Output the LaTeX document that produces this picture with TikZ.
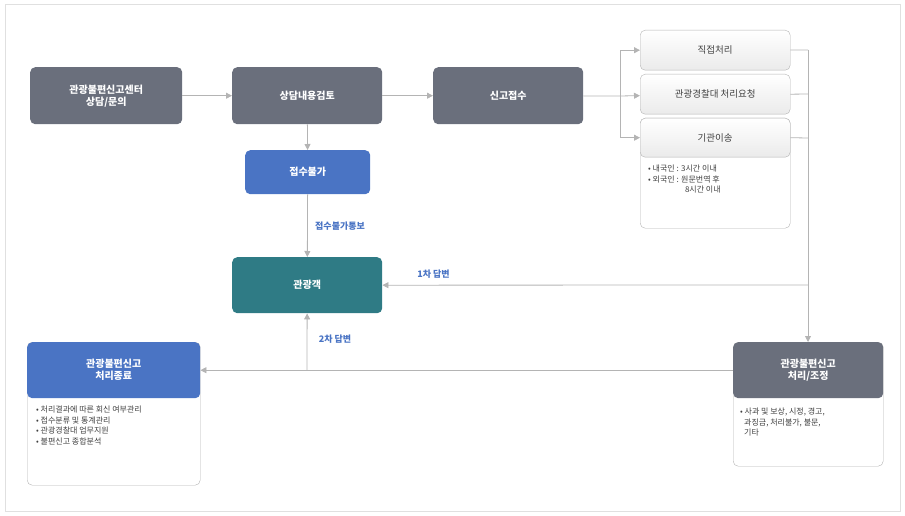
\documentclass[tikz,border=0pt]{standalone}
\usepackage{fontspec}
\setmainfont{Noto Sans CJK KR}
\usetikzlibrary{positioning,arrows.meta}
\definecolor{darkbox}{HTML}{6A6F7C}
\definecolor{bluebox}{HTML}{4A74C4}
\definecolor{tealbox}{HTML}{2F7B85}
\definecolor{lineg}{HTML}{B4B4B4}
\definecolor{textblue}{HTML}{4A74C4}
\tikzset{
  head/.style={rounded corners=5pt, text=white, font=\bfseries\fontsize{10}{12}\selectfont, align=center, anchor=north west, inner sep=0pt},
  opt/.style={rounded corners=5pt, draw=lineg, top color=white, bottom color=black!8, text=black!75, font=\fontsize{9.5}{11}\selectfont, align=center, anchor=north west, inner sep=0pt},
  body/.style={rounded corners=5pt, draw=lineg, fill=white},
  note/.style={font=\fontsize{8}{10.5}\selectfont, text=black!75, align=left, anchor=north west, inner sep=0pt},
  conn/.style={draw=lineg, line width=0.8pt},
  arr/.style={conn, -{Triangle[length=6pt,width=6pt]}},
  lbl/.style={text=textblue, font=\bfseries\fontsize{9}{11}\selectfont}
}
\begin{document}
\begin{tikzpicture}[x=1pt,y=-1pt]
\useasboundingbox (0,0) rectangle (905,516);
\draw[black!12, line width=1pt] (5,5) rectangle (900,511);
% top row
\node[head, fill=darkbox, minimum width=152pt, minimum height=57pt] (center) at (30,67) {관광불편신고센터\\상담/문의};
\node[head, fill=darkbox, minimum width=150pt, minimum height=57pt] (review) at (232,67) {상담내용검토};
\node[head, fill=darkbox, minimum width=150pt, minimum height=57pt] (receive) at (433,67) {신고접수};
\node[head, fill=bluebox, minimum width=125pt, minimum height=44pt] (reject) at (245,150) {접수불가};
\node[head, fill=tealbox, minimum width=150pt, minimum height=56pt] (tourist) at (232,257) {관광객};
% right options
\node[opt, minimum width=150pt, minimum height=40pt] (direct) at (640,30) {직접처리};
\node[opt, minimum width=150pt, minimum height=40pt] (police) at (640,74) {관광경찰대 처리요청};
\node[body, anchor=north west, minimum width=150pt, minimum height=110pt] (transferbody) at (640,118) {};
\node[opt, minimum width=150pt, minimum height=39pt] (transfer) at (640,118) {기관이송};
\node[note] (transfernote) at (648,165) {• 내국인 : 3시간 이내\\• 외국인 : 원문번역 후\\\hspace{4.6em}8시간 이내};
% bottom boxes
\node[body, anchor=north west, minimum width=150pt, minimum height=124pt] (handlebody) at (733,342) {};
\node[head, fill=darkbox, minimum width=150pt, minimum height=56pt] (handle) at (733,342) {관광불편신고\\처리/조정};
\node[note] (handlenote) at (740,408) {• 사과 및 보상, 시정, 경고,\\\hspace{0.5em}과징금, 처리불가, 불문,\\\hspace{0.5em}기타};
\node[body, anchor=north west, minimum width=173pt, minimum height=143pt] (closebody) at (27,342) {};
\node[head, fill=bluebox, minimum width=173pt, minimum height=56pt] (close) at (27,342) {관광불편신고\\처리종료};
\node[note] (closenote) at (36,406) {• 처리결과에 따른 회신 여부관리\\• 접수분류 및 통계관리\\• 관광경찰대 업무지원\\• 불편신고 종합분석};
% connectors
\draw[arr] (center) -- (review);
\draw[arr] (review) -- (receive);
\draw[arr] (review) -- (reject);
\draw[arr] (reject) -- node[lbl, right=4pt] {접수불가통보} (tourist);
\coordinate (fork) at (620,96);
\draw[conn] (receive) -- (fork);
\draw[arr] (fork) |- (direct);
\draw[arr] (fork) -- (police);
\draw[arr] (fork) |- (transfer);
\coordinate (join) at (808,50);
\draw[conn] (direct) -- (join);
\draw[conn] (police.east) -- (808,94);
\draw[conn] (transfer.east) -- (808,138);
\draw[arr] (join) -- (handle.north -| join);
\coordinate (first) at (808,285);
\draw[arr] (first) -- node[lbl, above=3pt, pos=0.88] {1차 답변} (tourist);
\draw[arr] (handle) -- (close);
\coordinate (second) at (307,370);
\draw[arr] (second) -- node[lbl, right=8pt, pos=0.55] {2차 답변} (tourist);
\end{tikzpicture}
\end{document}
